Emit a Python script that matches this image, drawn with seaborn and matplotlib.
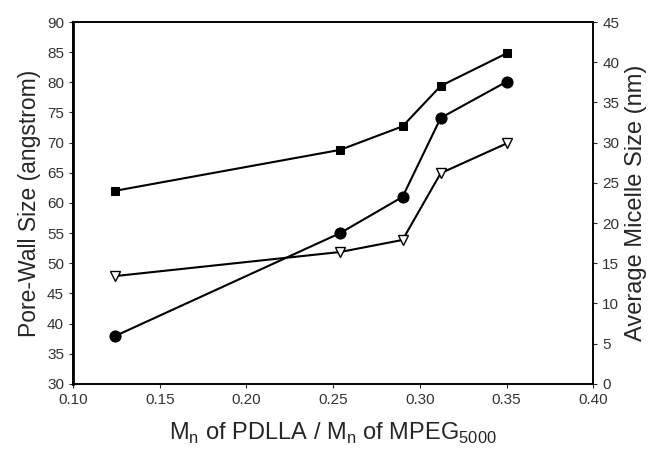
import pandas as pd
import seaborn as sns
import matplotlib.pyplot as plt

# Данные
ratio = [0.124, 0.254, 0.290, 0.312, 0.350]
pore_wall_sq = [62.0, 68.8, 72.7, 79.4, 84.8]
pore_wall_circ = [37.9, 55.0, 61.0, 74.1, 80.1]
micelle_size = [13.4, 16.4, 17.9, 26.2, 29.9]

sns.set_style("ticks")
plt.rcParams['font.family'] = ['Liberation Sans', 'DejaVu Sans']

fig = plt.figure(figsize=(6.52, 4.49), dpi=100)
ax = fig.add_axes([0.112, 0.145, 0.798, 0.806])

df = pd.DataFrame({'x': ratio, 'sq': pore_wall_sq, 'circ': pore_wall_circ})
sns.lineplot(data=df, x='x', y='sq', ax=ax, color='black', lw=1.5,
             marker='s', markersize=6, markeredgecolor='black')
sns.lineplot(data=df, x='x', y='circ', ax=ax, color='black', lw=1.5,
             marker='o', markersize=8, markeredgecolor='black')

ax.set_xlim(0.10, 0.40)
ax.set_ylim(30, 90)
ax.set_xticks([0.10, 0.15, 0.20, 0.25, 0.30, 0.35, 0.40])
ax.set_xticklabels(['0.10', '0.15', '0.20', '0.25', '0.30', '0.35', '0.40'])
ax.set_yticks(range(30, 91, 5))
ax.set_ylabel('Pore-Wall Size (angstrom)', fontsize=16.5, labelpad=4)
ax.set_xlabel(r'M$_\mathregular{n}$ of PDLLA / M$_\mathregular{n}$ of MPEG$_\mathregular{5000}$',
              fontsize=17, labelpad=10)
ax.tick_params(labelsize=11, direction='out', length=3, labelcolor='#333333')

ax2 = ax.twinx()
df2 = pd.DataFrame({'x': ratio, 'tri': micelle_size})
sns.lineplot(data=df2, x='x', y='tri', ax=ax2, color='black', lw=1.5,
             marker='v', markersize=7, markerfacecolor='white', markeredgecolor='black',
             markeredgewidth=1)
ax2.set_ylim(0, 45)
ax2.set_yticks(range(0, 46, 5))
ax2.set_ylabel('Average Micelle Size (nm)', fontsize=17, labelpad=4)
ax2.tick_params(labelsize=11, direction='out', length=3, labelcolor='#333333')

for a in (ax, ax2):
    for s in a.spines.values():
        s.set_visible(True)
        s.set_color('black')
        s.set_linewidth(1.2)
ax.spines['left'].set_linewidth(2)

fig.savefig('out.png', dpi=100)
